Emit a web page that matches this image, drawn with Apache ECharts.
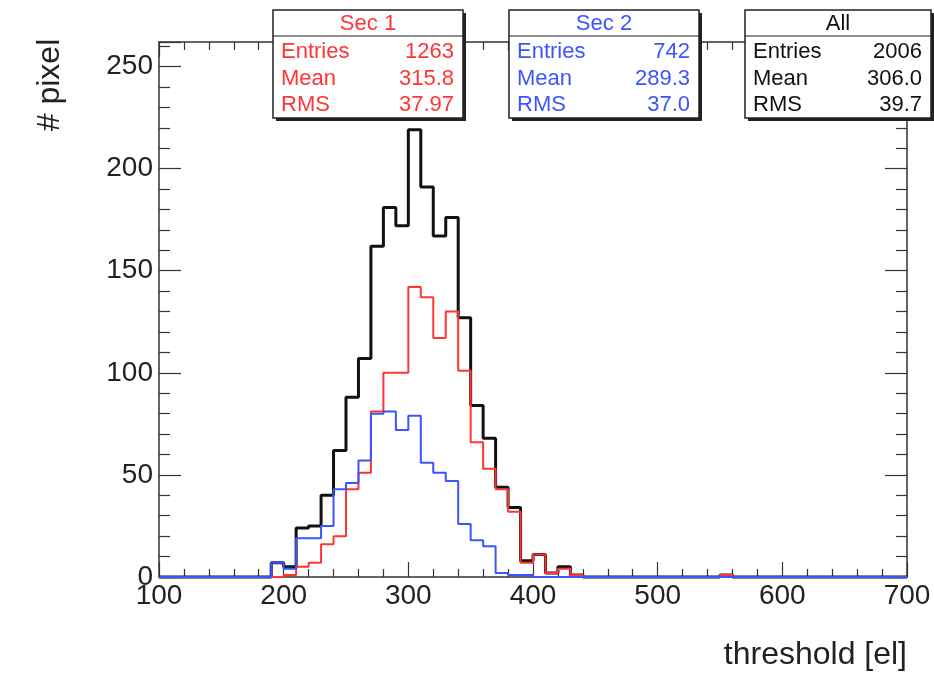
<!DOCTYPE html>
<html>
<head>
<meta charset="utf-8">
<script src="https://cdn.jsdelivr.net/npm/echarts@6/dist/echarts.min.js"></script>
<style>
html,body{margin:0;padding:0;background:#fff;}
#chart{width:934px;height:684px;}
</style>
</head>
<body>
<div id="chart"></div>
<script>
// Histogram bins (lower edges, width 10) with non-zero content
const binLowEdges = [190,200,210,220,230,240,250,260,270,280,290,300,310,320,330,340,350,360,370,380,390,400,410,420,430,550];
const allCounts  = [7,5,24,25,40,62,88,107,162,181,172,219,191,167,176,127,84,68,44,34,8,11,2,5,1,1];
const sec1Counts = [0,1,5,7,16,20,43,51,81,100,100,142,137,117,130,101,66,53,43,32,7,11,2,4,1,1];
const sec2Counts = [7,4,19,19,25,43,46,57,80,81,72,79,56,51,47,26,18,15,2,1,1,0,0,0,0,0];

const binWidth = 10, xMin = 100, xMax = 700;
const xTicks = [100,200,300,400,500,600,700];
const yTicks = [0,50,100,150,200,250];

// Stat boxes
const statTitles  = ['Sec 1','Sec 2','All'];
const statEntries = ['1263','742','2006'];
const statMeans   = ['315.8','289.3','306.0'];
const statRMS     = ['37.97','37.0','39.7'];

const RED = '#ff3535', BLUE = '#3a55ff', BLACK = '#111';
const FONT = '"Liberation Sans", Arial, Helvetica, sans-serif';

function buildSteps(counts){
  const pts = [];
  for (let x = xMin; x < xMax; x += binWidth){
    const i = binLowEdges.indexOf(x);
    pts.push([x, i >= 0 ? counts[i] : 0]);
  }
  pts.push([xMax, 0]);
  return pts;
}

const chart = echarts.init(document.getElementById('chart'), null, {renderer:'canvas'});

const axisLineStyle = {color:'#333', width:1.5};
function xAxisCfg(pos, showLabel){
  return {
    type:'value', position:pos, min:xMin, max:xMax, interval:100,
    axisLine:{show:true, onZero:false, lineStyle:axisLineStyle},
    axisTick:{show:true, inside:true, length:15, lineStyle:{color:'#333', width:1.2}},
    minorTick:{show:true, splitNumber:5, length:8, lineStyle:{color:'#333', width:1.2}},
    splitLine:{show:false}, minorSplitLine:{show:false},
    axisLabel:{show:showLabel, fontSize:28, color:'#222', margin:5, fontFamily:FONT}
  };
}
function yAxisCfg(pos, showLabel){
  return {
    type:'value', position:pos, min:0, max:262, interval:50,
    axisLine:{show:true, onZero:false, lineStyle:axisLineStyle},
    axisTick:{show:true, inside:true, length:22, lineStyle:{color:'#333', width:1.2}},
    minorTick:{show:true, splitNumber:5, length:11, lineStyle:{color:'#333', width:1.2}},
    splitLine:{show:false}, minorSplitLine:{show:false},
    axisLabel:{show:showLabel, showMaxLabel:false, fontSize:28, color:'#222', margin:6, fontFamily:FONT,
      formatter:function(v){ return yTicks.indexOf(v) >= 0 ? String(v) : ''; }}
  };
}

function statBox(x, y, w, h, color, k){
  const rowH = 26.5;
  const Z = 100;
  const children = [
    {type:'rect', z:Z, shape:{x:x+3, y:y+3, width:w, height:h}, style:{fill:'#222'}},
    {type:'rect', z:Z+1, shape:{x:x, y:y, width:w, height:h}, style:{fill:'#fff', stroke:'#222', lineWidth:1.5}},
    {type:'line', z:Z+2, shape:{x1:x, y1:y+26, x2:x+w, y2:y+26}, style:{stroke:'#222', lineWidth:1.2}},
    {type:'text', z:Z+2, x:x+w/2, y:y+14, style:{text:statTitles[k], fill:color, font:'22px '+FONT, align:'center', verticalAlign:'middle'}}
  ];
  const labels = ['Entries','Mean','RMS'];
  const vals = [statEntries[k], statMeans[k], statRMS[k]];
  for (let r = 0; r < 3; r++){
    const ty = y + 42 + r*rowH;
    children.push({type:'text', z:Z+2, x:x+8, y:ty, style:{text:labels[r], fill:color, font:'22px '+FONT, align:'left', verticalAlign:'middle'}});
    children.push({type:'text', z:Z+2, x:x+w-9, y:ty, style:{text:vals[r], fill:color, font:'22px '+FONT, align:'right', verticalAlign:'middle'}});
  }
  return {type:'group', z:Z, children:children};
}

chart.setOption({
  animation:false,
  backgroundColor:'#fff',
  grid:{left:159, right:27, top:42, bottom:107, containLabel:false},
  xAxis:[xAxisCfg('bottom', true), xAxisCfg('top', false)],
  yAxis:[yAxisCfg('left', true), yAxisCfg('right', false)],
  series:[
    {name:'All', type:'line', step:'end', data:buildSteps(allCounts), symbol:'none', clip:false,
     lineStyle:{color:BLACK, width:3}, z:3},
    {name:'Sec 1', type:'line', step:'end', data:buildSteps(sec1Counts), symbol:'none', clip:false,
     lineStyle:{color:RED, width:2}, z:4},
    {name:'Sec 2', type:'line', step:'end', data:buildSteps(sec2Counts), symbol:'none', clip:false,
     lineStyle:{color:BLUE, width:2}, z:5}
  ],
  graphic:[
    {type:'text', z:50, x:50, y:85, rotation:Math.PI/2, style:{text:'# pixel', fill:'#222', font:'32px '+FONT, align:'center', verticalAlign:'middle'}},
    {type:'text', z:50, x:907, y:655, style:{text:'threshold [el]', fill:'#222', font:'32px '+FONT, align:'right', verticalAlign:'middle'}},
    statBox(273, 10, 190, 108, RED, 0),
    statBox(509, 10, 190, 108, BLUE, 1),
    statBox(745, 10, 186, 108, '#111', 2)
  ]
});
</script>
</body>
</html>
